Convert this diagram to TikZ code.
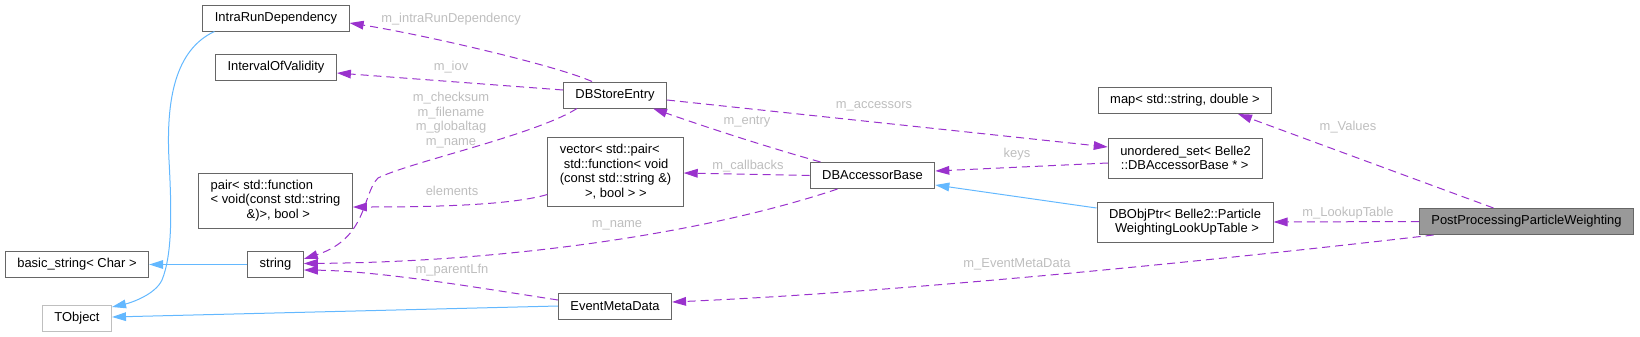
\documentclass[tikz,border=0pt]{standalone}
\usepackage{fontspec}
\setmainfont{Liberation Sans}
\usetikzlibrary{arrows.meta,calc}
\definecolor{usepurple}{HTML}{9A32CD}
\definecolor{inhblue}{HTML}{63B8FF}
\definecolor{boxgray}{HTML}{666666}
\definecolor{lblgray}{HTML}{BEBEBE}
\definecolor{rootgray}{HTML}{999999}
\definecolor{lightborder}{HTML}{BFBFBF}
\newcommand{\dgfont}{\fontsize{9.7}{10.9}\selectfont}

\begin{document}
\begin{tikzpicture}[x=0.75pt,y=-0.75pt,
    cls/.style={draw=boxgray,fill=white,line width=0.75pt,inner xsep=9pt,inner ysep=2pt,
        minimum height=19.5pt,font=\dgfont,align=left},
    lbl/.style={text=lblgray,font=\dgfont,align=center,inner sep=0pt},
    use/.style={draw=usepurple,line width=0.75pt,dash pattern=on 6pt off 3.75pt,
        -{Triangle[length=10.5pt,width=6.5pt]}},
    inh/.style={draw=inhblue,line width=0.75pt,-{Triangle[length=10.5pt,width=6.5pt]}}]
    \useasboundingbox (0,0) rectangle (1640,336);

    % classes
    \node[cls] (intra) at (276,18) {IntraRunDependency};
    \node[cls] (iov) at (276,67) {IntervalOfValidity};
    \node[cls] (store) at (615,95) {DBStoreEntry};
    \node[cls] (mapv) at (1185,100.5) {map< std::string, double >};
    \node[cls,minimum height=30pt] (uset) at (1185.5,158)
        {unordered\_set< Belle2\\\hspace*{0.5pt}::DBAccessorBase * >};
    \node[cls,minimum height=41.25pt] (pairf) at (275.5,200.5)
        {pair< std::function\\< void(const std::string\\\hspace*{27pt}\&)>, bool >};
    \node[cls,minimum height=51.75pt] (vecp) at (615.5,171.5)
        {vector< std::pair<\\\hspace*{3pt}std::function< void\\(const std::string \&)\\\hspace*{19pt}>, bool > >};
    \node[cls] (acc) at (872.5,175.5) {DBAccessorBase};
    \node[cls,minimum height=30pt] (objptr) at (1185,222)
        {DBObjPtr< Belle2::Particle\\\hspace*{4.5pt}WeightingLookUpTable >};
    \node[cls,fill=rootgray] (ppw) at (1526.5,221.5) {PostProcessingParticleWeighting};
    \node[cls] (bstr) at (77,264.5) {basic\_string< Char >};
    \node[cls] (str) at (275.5,264.5) {string};
    \node[cls,draw=lightborder] (tobj) at (77,318) {TObject};
    \node[cls] (emd) at (615,306) {EventMetaData};

    % members
    \draw[use] ($(store.north)+(-23,0)$) .. controls (555,65) and (420,34) .. ($(intra.east)+(0,5)$);
    \draw[use] ($(store.west)+(0,-5)$) -- ($(iov.east)+(0,6)$);
    \draw[use] ($(store.south)+(-38,0)$) .. controls (535,135) and (410,162) .. (378,178)
        .. controls (362,194) and (368,238) .. ($(str.east)+(0,-5.5)$);
    \draw[use] ($(acc.north)+(-52,0)$) .. controls (760,145) and (700,125) .. ($(store.south)+(38,0)$);
    \draw[use] ($(store.east)+(0,5)$) -- ($(uset.west)+(0,-11)$);
    \draw[use] ($(uset.west)+(0,5)$) -- ($(acc.east)+(0,-4.5)$);
    \draw[use] (acc.west) -- ($(vecp.east)+(0,1.5)$);
    \draw[use] ($(vecp.south west)+(0,-12)$) .. controls (515,204) and (450,207) .. ($(pairf.east)+(0,6.5)$);
    \draw[use] ($(acc.south)+(-35,0)$) .. controls (700,235) and (500,262) .. ($(str.east)+(0,-1)$);
    \draw[use] ($(emd.west)+(0,-6)$) .. controls (480,288) and (380,271) .. ($(str.east)+(0,5.5)$);
    \draw[use] ($(ppw.north)+(-33,0)$) -- ($(mapv.south)+(53,0)$);
    \draw[use] (ppw.west) -- (objptr.east);
    \draw[use] ($(ppw.south)+(-93,0)$) .. controls (1200,262) and (900,292) .. ($(emd.east)+(0,-4)$);

    % base classes
    \draw[inh] ($(objptr.west)+(0,-14)$) -- ($(acc.east)+(0,9.5)$);
    \draw[inh] (str.west) -- (bstr.east);
    \draw[inh] ($(intra.south west)+(12,0)$) .. controls (175,50) and (166,100) .. (169,160)
        .. controls (172,215) and (172,255) .. (162,280)
        .. controls (155,295) and (130,303) .. ($(tobj.east)+(0,-11)$);
    \draw[inh] (emd.west) -- ($(tobj.east)+(0,-1)$);

    % labels
    \node[lbl] (lIntra) at (451,19) {m\_intraRunDependency};
    \node[lbl] (lIov) at (451,67) {m\_iov};
    \node[lbl] (lName4) at (451,120) {m\_checksum\\m\_filename\\m\_globaltag\\m\_name};
    \node[lbl] (lEntry) at (747,122) {m\_entry};
    \node[lbl] (lAccs) at (874,106) {m\_accessors};
    \node[lbl] (lKeys) at (1017,154) {keys};
    \node[lbl] (lCb) at (748,166) {m\_callbacks};
    \node[lbl] (lElem) at (452,191) {elements};
    \node[lbl] (lName) at (617,225) {m\_name};
    \node[lbl] (lLfn) at (452,270) {m\_parentLfn};
    \node[lbl] (lVal) at (1348,127) {m\_Values};
    \node[lbl] (lLut) at (1348,213) {m\_LookupTable};
    \node[lbl] (lEmd) at (1017,264) {m\_EventMetaData};
\end{tikzpicture}
\end{document}
